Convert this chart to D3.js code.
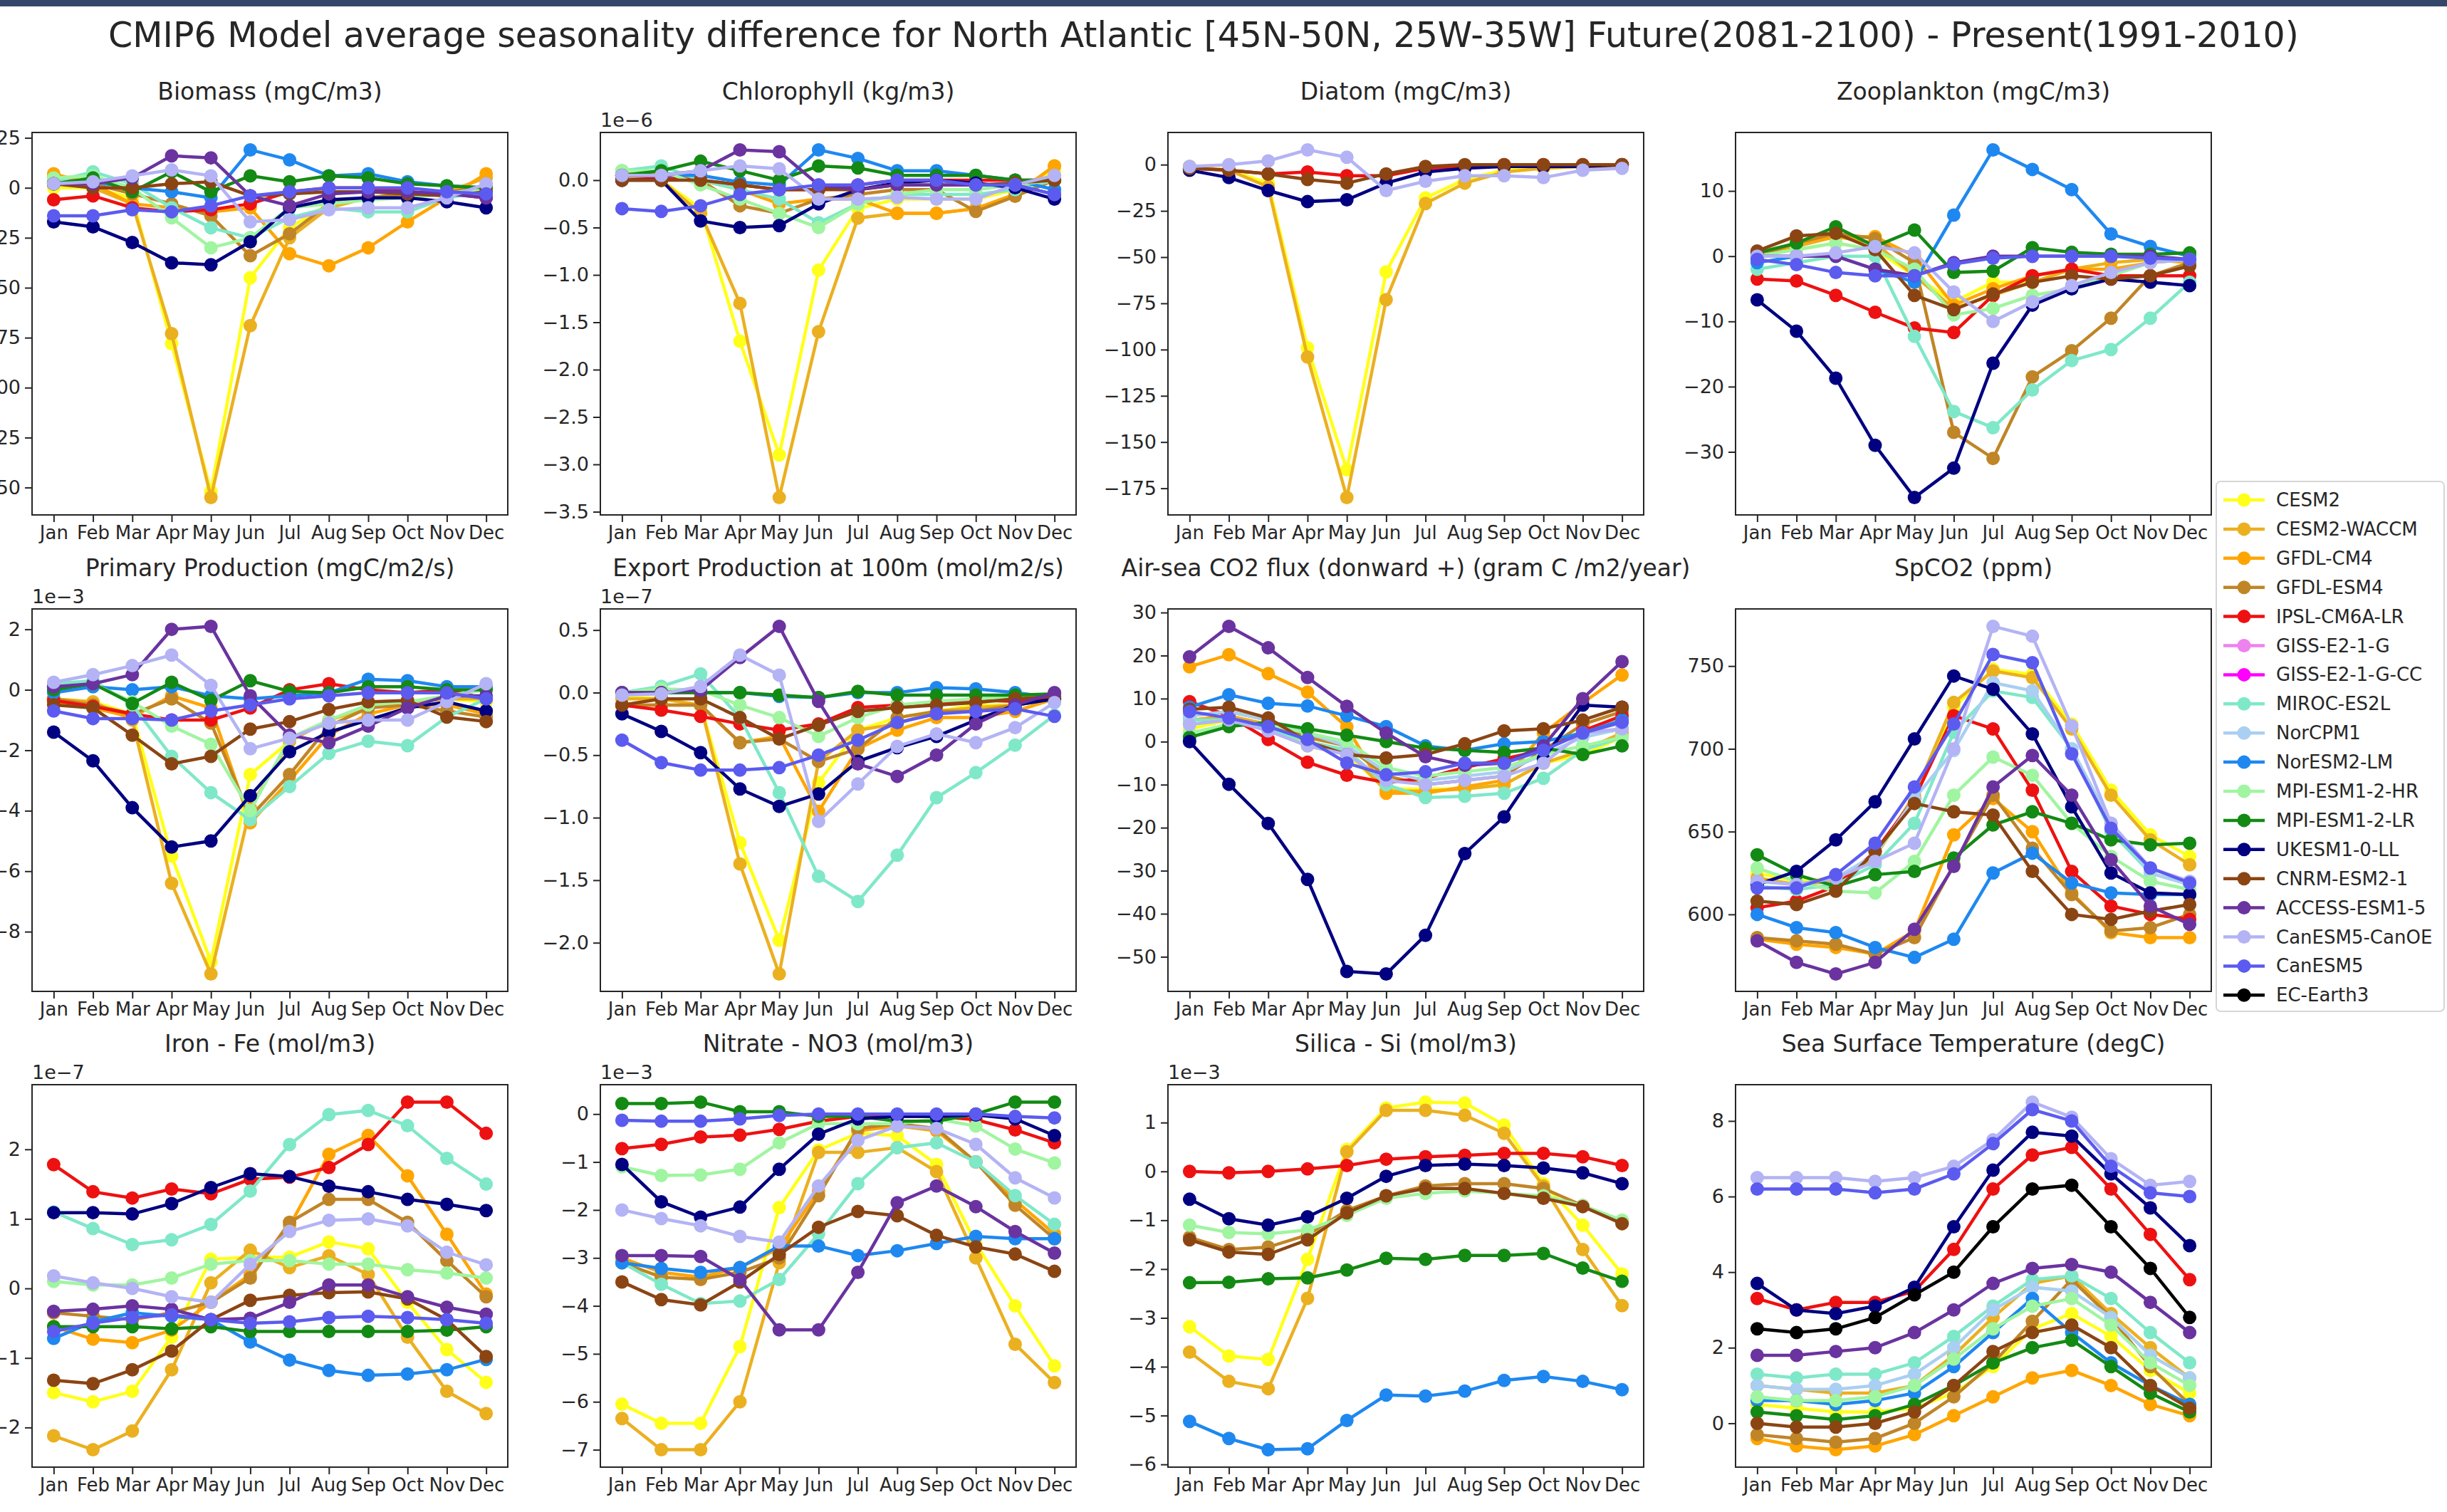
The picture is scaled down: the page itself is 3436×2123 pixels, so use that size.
<!DOCTYPE html>
<html>
<head>
<meta charset="utf-8">
<title>CMIP6 seasonality difference</title>
<style>
  body { margin: 0; background: #fff; }
  svg text { font-family: "DejaVu Sans", sans-serif; fill: #262626; }
  .axis path { display: none; }
  .axis line { stroke: #262626; stroke-width: 2; }
</style>
</head>
<body>
<svg width="3436" height="2123"></svg>
<script src="https://cdn.jsdelivr.net/npm/d3@7/dist/d3.min.js"></script>
<script>
var months = ["Jan", "Feb", "Mar", "Apr", "May", "Jun", "Jul", "Aug", "Sep", "Oct", "Nov", "Dec"];

var models = ["CESM2", "CESM2-WACCM", "GFDL-CM4", "GFDL-ESM4", "IPSL-CM6A-LR", "GISS-E2-1-G",
  "GISS-E2-1-G-CC", "MIROC-ES2L", "NorCPM1", "NorESM2-LM", "MPI-ESM1-2-HR", "MPI-ESM1-2-LR",
  "UKESM1-0-LL", "CNRM-ESM2-1", "ACCESS-ESM1-5", "CanESM5-CanOE", "CanESM5", "EC-Earth3"];

var colors = ["#ffff1a", "#ebb020", "#ffa500", "#c08526", "#ee1111", "#ee82ee",
  "#ff00ff", "#7fe8c8", "#a9cff2", "#1e88f0", "#a0f5a0", "#138a13",
  "#000080", "#8b4513", "#6a33a0", "#b3b3f5", "#5b5bf0", "#000000"];

// values, Jan..Dec
var biomass = {
  "CESM2": [0, 0, -5, -78, -152, -45, -20, -8, -5, -3, -2, 0],
  "CESM2-WACCM": [3, 0, -8, -73, -155, -69, -25, -10, -5, -3, -2, 5],
  "GFDL-CM4": [7, 2, -8, -10, -12, -10, -33, -39, -30, -17, -5, 7],
  "GFDL-ESM4": [5, 2, -3, -8, -14, -34, -23, -8, -5, -3, -2, 0],
  "IPSL-CM6A-LR": [-6, -4, -10, -12, -11, -8, -2, 0, 0, -2, -3, -5],
  "MIROC-ES2L": [3, 8, 2, -10, -20, -25, -15, -10, -12, -12, -5, -2],
  "NorESM2-LM": [2, 3, 0, -2, -5, 19, 14, 6, 7, 3, 1, 0],
  "MPI-ESM1-2-HR": [5, 6, 0, -15, -30, -25, -10, -8, -6, -5, -3, 0],
  "MPI-ESM1-2-LR": [2, 5, -2, 8, -2, 6, 3, 6, 5, 2, 1, 0],
  "UKESM1-0-LL": [-17, -19.5, -27.4, -37.5, -38.5, -27, -10, -6, -5, -5, -7, -10],
  "CNRM-ESM2-1": [2, 0, 0, 2, 3, -4, -3, -2, -2, -3, -4, -2],
  "ACCESS-ESM1-5": [2, 2, 5, 16, 15, -4, -9, -3, -2, -2, -3, -5],
  "CanESM5-CanOE": [2, 3, 6, 9, 6, -17, -16, -11, -10, -10, -5, 2],
  "CanESM5": [-14, -14, -11, -12, -9, -4, -2, 0, 0, 0, -2, -3]
};

// x 1e-6
var chlorophyll = {
  "CESM2": [0.05, 0, -0.3, -1.7, -2.9, -0.95, -0.3, -0.2, -0.2, -0.2, -0.1, 0.1],
  "CESM2-WACCM": [0.05, 0, -0.35, -1.3, -3.35, -1.6, -0.4, -0.35, -0.35, -0.3, -0.15, 0.15],
  "GFDL-CM4": [0.1, 0.05, 0, -0.1, -0.25, -0.2, -0.2, -0.35, -0.35, -0.3, -0.15, 0.15],
  "GFDL-ESM4": [0.05, 0.05, 0, -0.27, -0.35, -0.2, -0.15, -0.1, -0.1, -0.33, -0.17, 0],
  "IPSL-CM6A-LR": [0, 0.02, 0, -0.05, -0.1, -0.1, -0.05, 0, 0, 0, 0, 0],
  "MIROC-ES2L": [0.1, 0.15, 0, -0.1, -0.2, -0.45, -0.25, -0.15, -0.15, -0.15, -0.1, 0],
  "NorESM2-LM": [0.05, 0.05, 0.05, -0.02, -0.05, 0.32, 0.23, 0.1, 0.1, 0.05, 0, -0.1],
  "MPI-ESM1-2-HR": [0.1, 0.1, -0.05, -0.2, -0.35, -0.5, -0.25, -0.15, -0.1, -0.1, -0.05, 0],
  "MPI-ESM1-2-LR": [0.05, 0.1, 0.2, 0.1, 0, 0.15, 0.13, 0.05, 0.05, 0.05, 0, 0],
  "UKESM1-0-LL": [0, 0, -0.43, -0.5, -0.48, -0.25, -0.1, -0.03, 0, -0.03, -0.08, -0.2],
  "CNRM-ESM2-1": [0, 0, 0, -0.05, -0.1, -0.1, -0.1, -0.05, -0.05, -0.05, -0.03, 0],
  "ACCESS-ESM1-5": [0.05, 0.05, 0.1, 0.32, 0.3, -0.05, -0.1, -0.05, -0.05, -0.05, -0.05, -0.15],
  "CanESM5-CanOE": [0.05, 0.05, 0.1, 0.15, 0.12, -0.2, -0.2, -0.18, -0.2, -0.2, -0.05, 0.05],
  "CanESM5": [-0.3, -0.33, -0.27, -0.15, -0.1, -0.05, -0.05, 0, 0, -0.05, -0.05, -0.15]
};

var diatom = {
  "CESM2": [-1, -3, -10, -99, -165, -58, -18, -8, -3, -2, -1, -1],
  "CESM2-WACCM": [-1, -3, -12, -104, -180, -73, -21, -10, -4, -2, -1, -1],
  "IPSL-CM6A-LR": [-2, -3, -5, -4, -6, -6, -2, -1, 0, 0, 0, 0],
  "UKESM1-0-LL": [-3, -7, -14, -20, -19, -10, -4, -2, -1, -1, -1, 0],
  "CNRM-ESM2-1": [-2, -3, -5, -8, -10, -5, -1, 0, 0, 0, 0, 0],
  "CanESM5-CanOE": [-1, 0, 2, 8, 4, -14, -9, -6, -6, -7, -3, -2]
};

var zooplankton = {
  "CESM2": [0.5, 1, 2, 1, -3, -7, -4, -4, -2, -1, -0.5, -1],
  "CESM2-WACCM": [0.5, 1.5, 3, 2, -3, -8, -6, -4, -2, -1, -0.5, -1],
  "GFDL-CM4": [0.5, 2, 3, 3, 0, -7.5, -5, -3, -2, -2, -1, -0.5],
  "GFDL-ESM4": [0, 2, 3.5, 2.7, -1, -27, -31, -18.5, -14.5, -9.5, -3, -1],
  "IPSL-CM6A-LR": [-3.5, -3.8, -6, -8.6, -11, -11.7, -6, -3, -2, -3, -3, -3],
  "MIROC-ES2L": [-2, -1, 0, 0, -12.3, -23.8, -26.3, -20.5, -16, -14.3, -9.5, -4],
  "NorESM2-LM": [-1, 0, 0, -2, -4, 6.3, 16.3, 13.3, 10.2, 3.4, 1.5, 0],
  "MPI-ESM1-2-HR": [0, 1, 2, 1, -2, -9, -8, -6, -5, -3, -1, -0.5],
  "MPI-ESM1-2-LR": [0.5, 2, 4.5, 1.5, 4, -2.5, -2.3, 1.3, 0.6, 0.3, 0.3, 0.5],
  "UKESM1-0-LL": [-6.7, -11.5, -18.7, -29, -37, -32.5, -16.4, -7.5, -5, -3.5, -4, -4.5],
  "CNRM-ESM2-1": [0.8, 3.1, 3.5, 1, -6, -8.2, -5.8, -4, -3, -3.5, -3, -1.5],
  "ACCESS-ESM1-5": [0, 0, 0, -2, -3, -1, 0, 0, 0, 0, 0, -0.5],
  "CanESM5-CanOE": [0, 0, 0.5, 1.5, 0.5, -5.5, -10, -7, -4.5, -2.5, -1, -0.5],
  "CanESM5": [-0.5, -1.3, -2.5, -3, -3, -1.2, -0.3, 0, 0, 0, -0.3, -0.5]
};

// x 1e-3
var primaryProd = {
  "CESM2": [-0.3, -0.4, -0.8, -5.5, -9.0, -2.8, -1.7, -1.0, -0.6, -0.4, -0.3, -0.4],
  "CESM2-WACCM": [-0.3, -0.4, -1.0, -6.4, -9.4, -3.9, -1.7, -1.0, -0.6, -0.4, -0.3, -0.3],
  "GFDL-CM4": [-0.4, -0.6, -0.9, -0.2, -0.6, -4.4, -3.0, -1.5, -0.8, -0.5, -0.5, -0.8],
  "GFDL-ESM4": [-0.3, -0.5, -0.8, -0.3, -1.1, -4.2, -2.8, -1.2, -0.6, -0.5, -0.7, -0.9],
  "IPSL-CM6A-LR": [-0.35, -0.55, -0.8, -1.0, -1.0, -0.6, 0, 0.2, 0, -0.1, 0, -0.3],
  "MIROC-ES2L": [0.2, 0.3, -0.5, -2.2, -3.4, -4.3, -3.2, -2.1, -1.7, -1.85, -0.9, -0.3],
  "NorESM2-LM": [-0.1, 0.1, 0, 0.1, -0.2, -0.3, -0.2, -0.1, 0.35, 0.3, 0.1, 0.1],
  "MPI-ESM1-2-HR": [0.1, 0.2, -0.4, -1.2, -1.8, -4.0, -1.6, -1.0, -0.5, -0.4, -0.2, 0],
  "MPI-ESM1-2-LR": [0, 0.2, -0.45, 0.25, -0.35, 0.3, -0.05, -0.1, 0.1, 0.1, 0, 0],
  "UKESM1-0-LL": [-1.4, -2.35, -3.9, -5.2, -5.0, -3.5, -2.05, -1.4, -1.0, -0.6, -0.4, -0.7],
  "CNRM-ESM2-1": [-0.5, -0.6, -1.5, -2.45, -2.2, -1.3, -1.05, -0.65, -0.4, -0.35, -0.9, -1.05],
  "ACCESS-ESM1-5": [0.1, 0.2, 0.5, 2.0, 2.1, -0.2, -1.5, -1.75, -1.2, -0.6, -0.2, -0.2],
  "CanESM5-CanOE": [0.25, 0.5, 0.8, 1.15, 0.15, -1.95, -1.6, -1.1, -1.0, -1.0, -0.4, 0.2],
  "CanESM5": [-0.7, -0.95, -0.95, -1.0, -0.7, -0.5, -0.3, -0.2, -0.1, -0.1, -0.1, -0.3]
};

// x 1e-7
var exportProd = {
  "CESM2": [-0.03, -0.05, -0.1, -1.2, -1.98, -0.72, -0.3, -0.2, -0.15, -0.1, -0.1, -0.05],
  "CESM2-WACCM": [-0.05, -0.05, -0.1, -1.37, -2.25, -0.55, -0.3, -0.25, -0.15, -0.12, -0.1, -0.05],
  "GFDL-CM4": [-0.1, -0.1, -0.1, -0.4, -0.35, -0.95, -0.45, -0.3, -0.2, -0.2, -0.15, -0.05],
  "GFDL-ESM4": [-0.1, -0.1, -0.1, -0.4, -0.37, -0.55, -0.45, -0.2, -0.15, -0.15, -0.1, -0.05],
  "IPSL-CM6A-LR": [-0.1, -0.14, -0.19, -0.25, -0.3, -0.25, -0.12, -0.1, -0.08, -0.06, -0.07, -0.03],
  "MIROC-ES2L": [0, 0.05, 0.15, -0.2, -0.8, -1.47, -1.67, -1.3, -0.84, -0.64, -0.42, -0.18],
  "NorESM2-LM": [0, 0, 0, 0, -0.03, -0.04, 0, 0, 0.04, 0.03, 0, -0.04],
  "MPI-ESM1-2-HR": [0, 0.03, 0.02, -0.1, -0.2, -0.35, -0.2, -0.1, -0.07, -0.05, -0.03, -0.02],
  "MPI-ESM1-2-LR": [0, 0, 0, 0, -0.02, -0.04, 0.01, -0.02, -0.02, -0.02, -0.02, -0.01],
  "UKESM1-0-LL": [-0.17, -0.31, -0.48, -0.77, -0.91, -0.81, -0.55, -0.44, -0.35, -0.22, -0.1, -0.05],
  "CNRM-ESM2-1": [-0.1, -0.05, -0.05, -0.2, -0.37, -0.26, -0.15, -0.12, -0.1, -0.08, -0.05, -0.03],
  "ACCESS-ESM1-5": [0, 0, 0.02, 0.28, 0.53, -0.07, -0.57, -0.67, -0.5, -0.25, -0.1, 0],
  "CanESM5-CanOE": [-0.02, -0.01, 0.05, 0.3, 0.14, -1.03, -0.73, -0.43, -0.33, -0.4, -0.28, -0.08],
  "CanESM5": [-0.38, -0.56, -0.62, -0.62, -0.6, -0.5, -0.38, -0.24, -0.17, -0.15, -0.13, -0.19]
};

var co2Flux = {
  "CESM2": [3, 5, 3, -1, -3, -11, -11, -11, -10, -5, -3, 1],
  "CESM2-WACCM": [5, 6, 4, 0, -2, -11.5, -11.5, -11, -10, -5, -2, 2],
  "GFDL-CM4": [17.4, 20.2, 15.8, 11.5, 3.4, -12, -12, -10.5, -9, 2, 9, 15.5],
  "GFDL-ESM4": [6, 7, 5, 1, -1, -8, -10, -9, -8, -2, 4, 7],
  "IPSL-CM6A-LR": [9.3, 6, 0.5, -4.8, -7.8, -9.5, -8.5, -6, -4, -2, 2.5, 6],
  "MIROC-ES2L": [5, 5, 3, 0, -2, -10, -13, -12.7, -12, -8.5, -2, 1],
  "NorCPM1": [6, 7, 5, 2, -1, -7, -9, -8, -7, -3, 1, 3],
  "NorESM2-LM": [8, 10.9, 8.9, 8.3, 6, 3.5, -1, -2, -0.5, 0, 2, 5],
  "MPI-ESM1-2-HR": [2, 4, 4, 2, 0, -6, -8, -7, -6, -3, -1, 1],
  "MPI-ESM1-2-LR": [1, 3.5, 4.5, 3, 1.5, 0, -1.5, -2, -2.5, -1.5, -3, -1],
  "UKESM1-0-LL": [0, -9.9, -19, -32, -53.4, -54, -45, -26, -17.5, -4, 8.5, 8],
  "CNRM-ESM2-1": [7.5, 8, 5.5, 0, -3, -3.8, -3, -0.5, 2.5, 3, 5, 8],
  "ACCESS-ESM1-5": [19.7, 26.8, 21.8, 14.9, 8.2, 2, -3.5, -5.5, -5, -1, 10, 18.6],
  "CanESM5-CanOE": [4, 5, 2.5, -1, -3, -9, -10, -9, -8, -5, 2, 3],
  "CanESM5": [7, 5.5, 3.5, 0.5, -5, -7.7, -7, -5, -5, -2, 2, 4.5]
};

var spco2 = {
  "CESM2": [625, 620, 622, 635, 670, 725, 748, 745, 715, 675, 648, 635],
  "CESM2-WACCM": [622, 618, 620, 635, 672, 728, 747, 743, 712, 672, 645, 630],
  "GFDL-CM4": [585, 582, 580, 576, 590, 648, 670, 650, 613, 589, 586, 586],
  "GFDL-ESM4": [586, 584, 582, 576, 586, 630, 672, 640, 612, 590, 592, 600],
  "IPSL-CM6A-LR": [604, 608, 617, 638, 670, 720, 712, 675, 626, 605, 600, 597],
  "MIROC-ES2L": [617, 615, 618, 630, 655, 710, 735, 731, 700, 650, 625, 618],
  "NorCPM1": [620, 618, 622, 636, 670, 699, 740, 735, 700, 655, 625, 618],
  "NorESM2-LM": [600, 592, 589, 580, 574, 585, 625, 637, 619, 613, 612, 612],
  "MPI-ESM1-2-HR": [628, 620, 614, 613, 632, 672, 695, 684, 655, 635, 620, 615],
  "MPI-ESM1-2-LR": [636, 624, 617, 624, 626, 634, 654, 662, 655, 645, 642, 643],
  "UKESM1-0-LL": [618, 626, 645, 668, 706, 744, 736, 709, 665, 625, 613, 612],
  "CNRM-ESM2-1": [608, 606, 614, 638, 667, 662, 660, 626, 600, 597, 602, 606],
  "ACCESS-ESM1-5": [584, 571, 564, 571, 591, 629, 677, 696, 672, 633, 605, 594],
  "CanESM5-CanOE": [620, 618, 622, 632, 643, 700, 774, 768, 714, 655, 628, 620],
  "CanESM5": [616, 616, 624, 643, 677, 715, 757, 752, 697, 652, 628, 619]
};

// x 1e-7
var iron = {
  "CESM2": [-1.5, -1.63, -1.48, -0.7, 0.42, 0.45, 0.45, 0.67, 0.57, -0.2, -0.88, -1.35],
  "CESM2-WACCM": [-2.12, -2.32, -2.05, -1.17, 0.08, 0.55, 0.3, 0.47, 0.2, -0.7, -1.48, -1.8],
  "GFDL-CM4": [-0.55, -0.73, -0.78, -0.6, -0.2, 0.2, 0.9, 1.93, 2.2, 1.62, 0.78, -0.08],
  "GFDL-ESM4": [-0.35, -0.4, -0.45, -0.35, -0.2, 0.15, 0.95, 1.28, 1.28, 0.95, 0.4, -0.12],
  "IPSL-CM6A-LR": [1.78, 1.39, 1.3, 1.43, 1.36, 1.57, 1.6, 1.74, 2.07, 2.68, 2.68, 2.23],
  "MIROC-ES2L": [1.1, 0.86, 0.63, 0.7, 0.92, 1.4, 2.07, 2.5, 2.56, 2.34, 1.87, 1.5],
  "NorESM2-LM": [-0.72, -0.48, -0.35, -0.4, -0.45, -0.77, -1.03, -1.18, -1.25, -1.23, -1.17, -1.02],
  "MPI-ESM1-2-HR": [0.1, 0.05, 0.05, 0.15, 0.35, 0.4, 0.4, 0.35, 0.35, 0.27, 0.22, 0.15],
  "MPI-ESM1-2-LR": [-0.55, -0.55, -0.55, -0.58, -0.55, -0.62, -0.62, -0.62, -0.62, -0.62, -0.6, -0.55],
  "UKESM1-0-LL": [1.09, 1.09, 1.07, 1.22, 1.45, 1.65, 1.61, 1.47, 1.39, 1.28, 1.21, 1.12],
  "CNRM-ESM2-1": [-1.32, -1.37, -1.17, -0.9, -0.45, -0.17, -0.1, -0.06, -0.05, -0.15, -0.45, -0.98],
  "ACCESS-ESM1-5": [-0.33, -0.3, -0.25, -0.3, -0.45, -0.43, -0.2, 0.05, 0.05, -0.12, -0.27, -0.37],
  "CanESM5-CanOE": [0.18, 0.08, 0, -0.12, -0.2, 0.35, 0.82, 0.98, 1.0, 0.9, 0.52, 0.34],
  "CanESM5": [-0.62, -0.5, -0.42, -0.38, -0.45, -0.5, -0.48, -0.42, -0.4, -0.42, -0.45, -0.5]
};

// x 1e-3
var nitrate = {
  "CESM2": [-6.05, -6.45, -6.45, -4.85, -1.95, -0.75, -0.4, -0.45, -1.05, -2.7, -4.0, -5.25],
  "CESM2-WACCM": [-6.35, -7.0, -7.0, -6.0, -3.1, -0.8, -0.8, -0.7, -1.2, -3.0, -4.8, -5.6],
  "GFDL-CM4": [-3.0, -3.3, -3.4, -3.2, -2.8, -1.6, -0.35, -0.25, -0.35, -1.0, -1.8, -2.5],
  "GFDL-ESM4": [-3.1, -3.4, -3.45, -3.3, -3.0, -1.7, -0.3, -0.2, -0.3, -1.0, -1.9, -2.6],
  "IPSL-CM6A-LR": [-0.72, -0.63, -0.48, -0.44, -0.32, -0.15, -0.05, -0.05, -0.05, -0.12, -0.33, -0.6],
  "MIROC-ES2L": [-3.1, -3.55, -3.95, -3.9, -3.45, -2.5, -1.45, -0.7, -0.6, -1.0, -1.7, -2.3],
  "NorESM2-LM": [-3.1, -3.22, -3.3, -3.2, -2.75, -2.75, -2.95, -2.85, -2.7, -2.55, -2.6, -2.6],
  "MPI-ESM1-2-HR": [-1.1, -1.28, -1.27, -1.15, -0.6, -0.2, -0.2, -0.2, -0.1, -0.25, -0.73, -1.02],
  "MPI-ESM1-2-LR": [0.22, 0.22, 0.25, 0.05, 0.05, -0.05, -0.05, -0.15, -0.15, 0, 0.25, 0.25],
  "UKESM1-0-LL": [-1.05, -1.83, -2.15, -1.94, -1.15, -0.42, -0.1, -0.05, -0.05, -0.02, -0.1, -0.45],
  "CNRM-ESM2-1": [-3.5, -3.87, -3.98, -3.5, -2.93, -2.36, -2.03, -2.12, -2.53, -2.77, -2.92, -3.28],
  "ACCESS-ESM1-5": [-2.95, -2.95, -2.97, -3.45, -4.5, -4.5, -3.3, -1.85, -1.5, -1.93, -2.45, -2.9],
  "CanESM5-CanOE": [-2.0, -2.18, -2.33, -2.55, -2.67, -1.5, -0.55, -0.25, -0.3, -0.63, -1.33, -1.75],
  "CanESM5": [-0.13, -0.15, -0.15, -0.1, -0.03, 0, 0, 0, 0, 0, -0.05, -0.08]
};

// x 1e-3
var silica = {
  "CESM2": [-3.18, -3.78, -3.85, -1.8, 0.45, 1.3, 1.42, 1.4, 0.95, -0.25, -1.1, -2.1],
  "CESM2-WACCM": [-3.7, -4.3, -4.45, -2.6, 0.4, 1.25, 1.25, 1.15, 0.78, -0.3, -1.6, -2.75],
  "GFDL-ESM4": [-1.35, -1.6, -1.55, -1.3, -0.8, -0.5, -0.3, -0.25, -0.25, -0.35, -0.7, -1.05],
  "IPSL-CM6A-LR": [0, -0.03, 0, 0.05, 0.12, 0.25, 0.3, 0.33, 0.37, 0.37, 0.3, 0.12],
  "NorESM2-LM": [-5.12, -5.47, -5.7, -5.68, -5.1, -4.58, -4.6, -4.5, -4.28, -4.2, -4.3, -4.47],
  "MPI-ESM1-2-HR": [-1.1, -1.25, -1.28, -1.2, -0.9, -0.55, -0.45, -0.4, -0.45, -0.5, -0.7, -1.0],
  "MPI-ESM1-2-LR": [-2.28, -2.27, -2.2, -2.18, -2.02, -1.78, -1.8, -1.72, -1.72, -1.68, -1.98, -2.25],
  "UKESM1-0-LL": [-0.57, -0.97, -1.1, -0.93, -0.55, -0.1, 0.12, 0.15, 0.12, 0.07, -0.03, -0.25],
  "CNRM-ESM2-1": [-1.4, -1.65, -1.7, -1.4, -0.85, -0.5, -0.35, -0.35, -0.45, -0.55, -0.72, -1.07]
};

var sst = {
  "CESM2": [0.5, 0.4, 0.3, 0.3, 0.4, 0.8, 1.5, 2.5, 2.9, 2.3, 1.4, 0.8],
  "CESM2-WACCM": [1.0, 0.9, 0.8, 0.8, 1.0, 1.8, 2.8, 3.7, 3.9, 2.9, 2.0, 1.2],
  "GFDL-CM4": [-0.4, -0.6, -0.7, -0.6, -0.3, 0.2, 0.7, 1.2, 1.4, 1.0, 0.5, 0.2],
  "GFDL-ESM4": [-0.3, -0.4, -0.5, -0.4, 0, 0.7, 1.6, 2.7, 3.8, 2.8, 1.5, 0.5],
  "IPSL-CM6A-LR": [3.3, 3.0, 3.2, 3.2, 3.5, 4.6, 6.2, 7.1, 7.3, 6.2, 5.0, 3.8],
  "MIROC-ES2L": [1.3, 1.2, 1.3, 1.3, 1.6, 2.3, 3.1, 3.8, 3.9, 3.3, 2.4, 1.6],
  "NorCPM1": [1.0, 0.9, 0.9, 1.0, 1.3, 2.0, 3.0, 3.6, 3.5, 2.8, 1.8, 1.2],
  "NorESM2-LM": [0.6, 0.6, 0.5, 0.6, 0.8, 1.5, 2.4, 3.3, 2.4, 1.6, 1.0, 0.5],
  "MPI-ESM1-2-HR": [0.7, 0.6, 0.6, 0.7, 1.0, 1.7, 2.5, 3.1, 3.3, 2.6, 1.6, 1.0],
  "MPI-ESM1-2-LR": [0.3, 0.2, 0.1, 0.2, 0.5, 1.0, 1.6, 2.0, 2.2, 1.5, 0.8, 0.3],
  "UKESM1-0-LL": [3.7, 3.0, 2.9, 3.1, 3.6, 5.2, 6.7, 7.7, 7.6, 6.6, 5.7, 4.7],
  "CNRM-ESM2-1": [0, -0.1, -0.1, 0, 0.3, 1.0, 1.9, 2.4, 2.6, 2.0, 1.0, 0.4],
  "ACCESS-ESM1-5": [1.8, 1.8, 1.9, 2.0, 2.4, 3.0, 3.7, 4.1, 4.2, 4.0, 3.2, 2.4],
  "CanESM5-CanOE": [6.5, 6.5, 6.5, 6.4, 6.5, 6.8, 7.5, 8.5, 8.1, 7.0, 6.3, 6.4],
  "CanESM5": [6.2, 6.2, 6.2, 6.1, 6.2, 6.6, 7.4, 8.3, 8.0, 6.8, 6.1, 6.0],
  "EC-Earth3": [2.5, 2.4, 2.5, 2.8, 3.4, 4.0, 5.2, 6.2, 6.3, 5.2, 4.1, 2.8]
};

var titles = ["Biomass (mgC/m3)", "Chlorophyll (kg/m3)", "Diatom (mgC/m3)", "Zooplankton (mgC/m3)",
  "Primary Production (mgC/m2/s)", "Export Production at 100m (mol/m2/s)",
  "Air-sea CO2 flux (donward +) (gram C /m2/year)", "SpCO2 (ppm)",
  "Iron - Fe (mol/m3)", "Nitrate - NO3 (mol/m3)", "Silica - Si (mol/m3)", "Sea Surface Temperature (degC)"];

var offsets = ["", "1e\u22126", "", "", "1e\u22123", "1e\u22127", "", "", "1e\u22127", "1e\u22123", "1e\u22123", ""];

var yTicks = [
  [25, 0, -25, -50, -75, -100, -125, -150],
  [0, -0.5, -1, -1.5, -2, -2.5, -3, -3.5],
  [0, -25, -50, -75, -100, -125, -150, -175],
  [10, 0, -10, -20, -30],
  [2, 0, -2, -4, -6, -8],
  [0.5, 0, -0.5, -1, -1.5, -2],
  [30, 20, 10, 0, -10, -20, -30, -40, -50],
  [750, 700, 650, 600],
  [2, 1, 0, -1, -2],
  [0, -1, -2, -3, -4, -5, -6, -7],
  [1, 0, -1, -2, -3, -4, -5, -6],
  [8, 6, 4, 2, 0]
];
var tickFormats = ["d", ".1f", "d", "d", "d", ".1f", "d", "d", "d", "d", "d", "d"];

var series = [biomass, chlorophyll, diatom, zooplankton, primaryProd, exportProd,
  co2Flux, spco2, iron, nitrate, silica, sst];

var svg = d3.select("svg");
var colLeft = [45, 843, 1640, 2437],
  rowTop = [186, 855, 1523],
  w = 668,
  h = 537;

// strip at the very top of the screenshot
svg.append("rect").attr("x", 0).attr("y", 0).attr("width", 3436).attr("height", 9).attr("fill", "#34476b");

svg.append("text")
  .attr("x", 1690).attr("y", 66)
  .attr("text-anchor", "middle")
  .style("font-size", "49px")
  .text("CMIP6 Model average seasonality difference for North Atlantic [45N-50N, 25W-35W] Future(2081-2100) - Present(1991-2010)");

var x = d3.scaleLinear().domain([-0.55, 11.55]);

series.forEach(function(data, k) {
  var left = colLeft[k % 4], top = rowTop[Math.floor(k / 4)];
  var g = svg.append("g").attr("transform", "translate(" + left + "," + top + ")");

  var all = [];
  Object.keys(data).forEach(function(m) { all = all.concat(data[m]); });
  var lo = d3.min(all), hi = d3.max(all), pad = (hi - lo) * 0.05;
  var y = d3.scaleLinear().domain([lo - pad, hi + pad]).range([h, 0]);
  var xs = x.copy().range([0, w]);

  g.append("rect").attr("width", w).attr("height", h).attr("fill", "#fff");

  var line = d3.line().x(function(d, i) { return xs(i); }).y(function(d) { return y(d); });

  models.forEach(function(m, mi) {
    if (!data[m]) return;
    var s = g.append("g");
    s.append("path").datum(data[m])
      .attr("d", line)
      .attr("fill", "none")
      .attr("stroke", colors[mi])
      .attr("stroke-width", 4.5);
    s.selectAll("circle").data(data[m]).enter().append("circle")
      .attr("cx", function(d, i) { return xs(i); })
      .attr("cy", function(d) { return y(d); })
      .attr("r", 9.5)
      .attr("fill", colors[mi]);
  });

  g.append("rect").attr("width", w).attr("height", h)
    .attr("fill", "none").attr("stroke", "#262626").attr("stroke-width", 2);

  g.append("g").attr("class", "axis")
    .call(d3.axisLeft(y).tickValues(yTicks[k]).tickFormat(d3.format(tickFormats[k])).tickSize(10).tickPadding(6))
    .selectAll("text").style("font-size", "27px").attr("fill", "#262626").attr("font-family", "DejaVu Sans");

  g.append("g").attr("class", "axis")
    .attr("transform", "translate(0," + h + ")")
    .call(d3.axisBottom(xs).tickValues(d3.range(12)).tickFormat(function(i) { return months[i]; }).tickSize(10).tickPadding(6))
    .selectAll("text").style("font-size", "26px").attr("fill", "#262626").attr("font-family", "DejaVu Sans");

  g.append("text")
    .attr("x", w / 2).attr("y", -46)
    .attr("text-anchor", "middle")
    .style("font-size", "33px")
    .text(titles[k]);

  if (offsets[k]) {
    g.append("text").attr("x", 0).attr("y", -8)
      .style("font-size", "27px")
      .text(offsets[k]);
  }
});

// legend
var lg = svg.append("g").attr("transform", "translate(3112,676)");
lg.append("rect").attr("width", 320).attr("height", 744).attr("rx", 6)
  .attr("fill", "#fff").attr("stroke", "#d6d6d6").attr("stroke-width", 2);
models.forEach(function(m, i) {
  var yy = 26 + i * 40.9;
  lg.append("line").attr("x1", 10).attr("x2", 68).attr("y1", yy).attr("y2", yy)
    .attr("stroke", colors[i]).attr("stroke-width", 4.5);
  lg.append("circle").attr("cx", 39).attr("cy", yy).attr("r", 9.5).attr("fill", colors[i]);
  lg.append("text").attr("x", 84).attr("y", yy + 9).style("font-size", "26px").text(m);
});
</script>
</body>
</html>
